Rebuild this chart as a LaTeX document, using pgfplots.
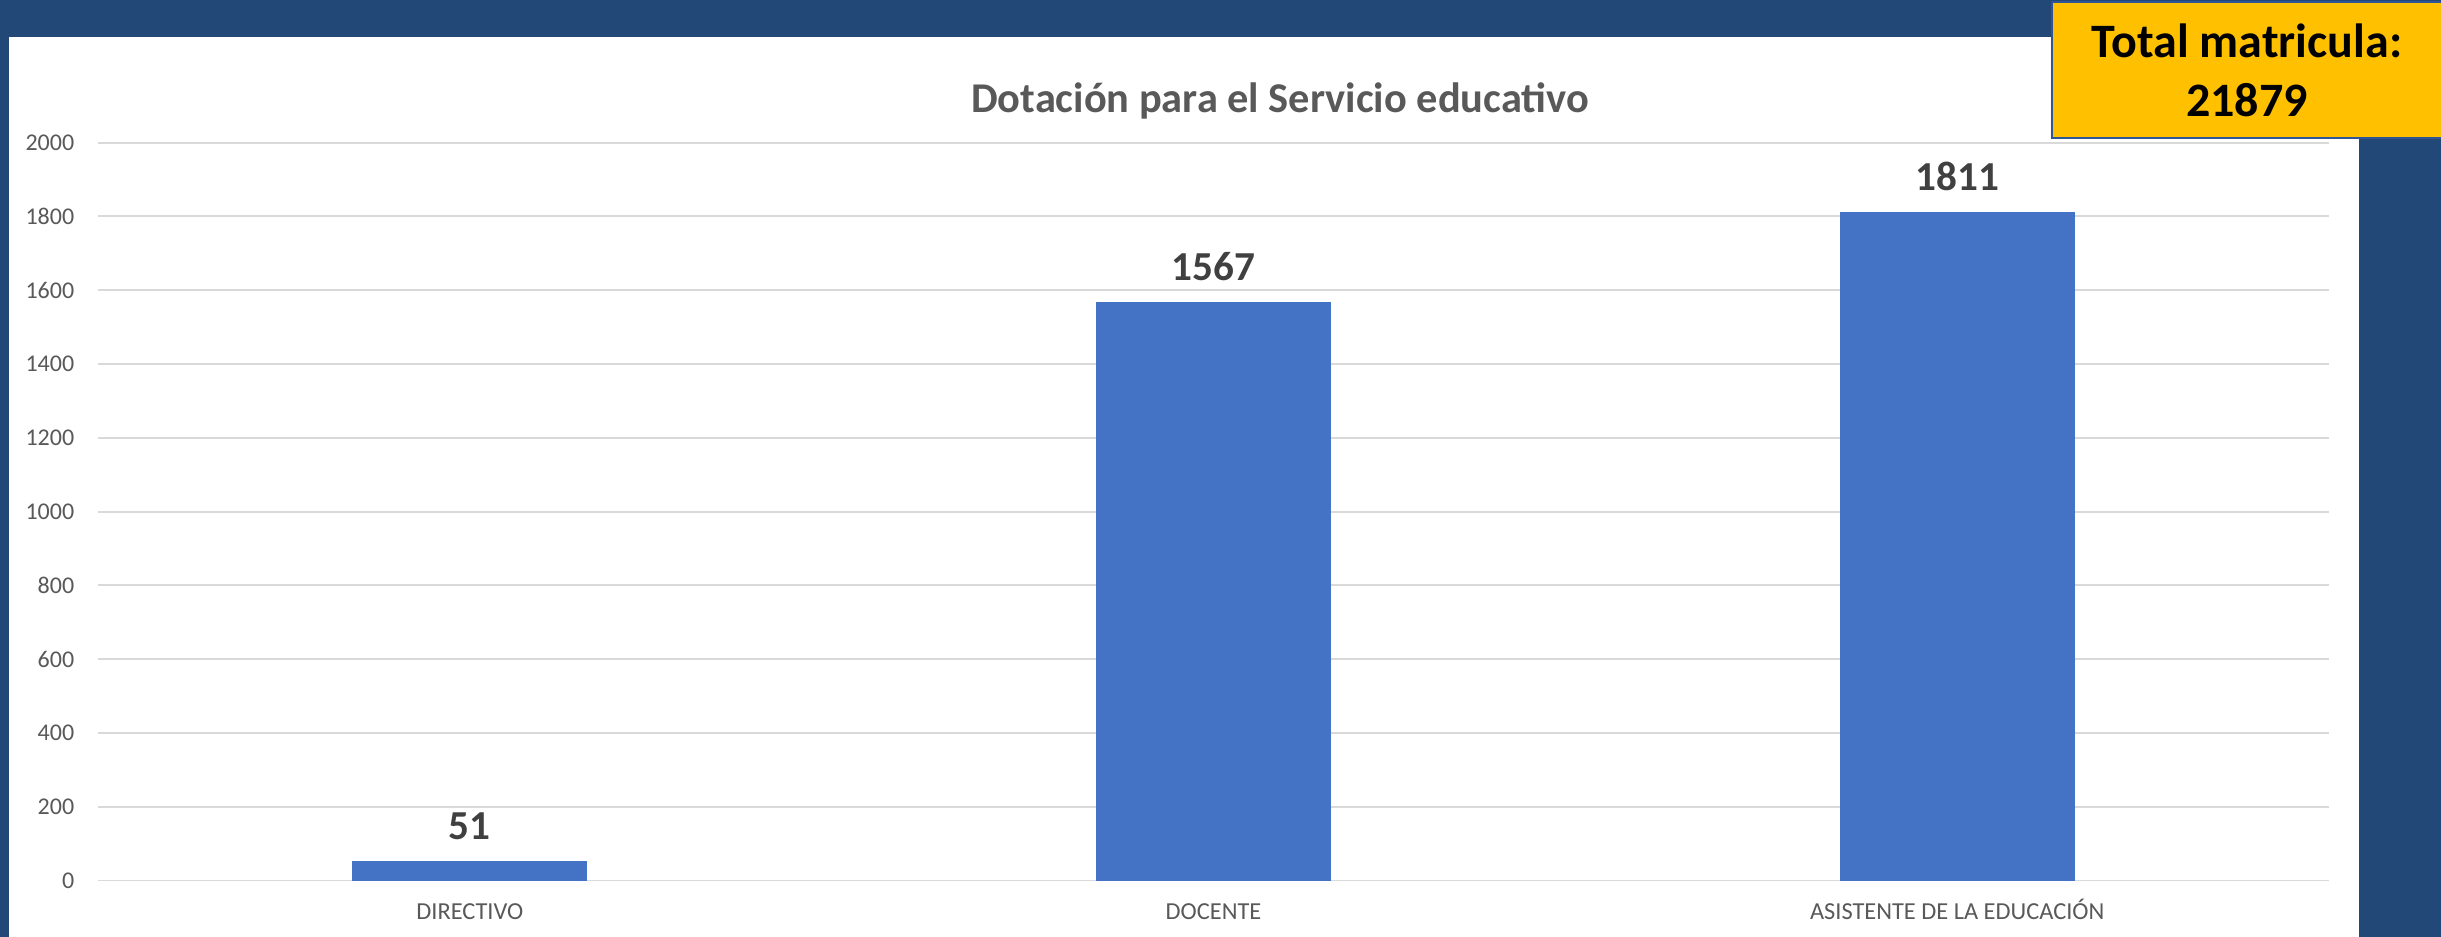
\documentclass[border=0pt]{standalone}
\usepackage{pgfplots}
\pgfplotsset{compat=1.18}
\usepackage{fontspec}
\setmainfont{Carlito}
\definecolor{bgblue}{HTML}{224877}
\definecolor{barblue}{HTML}{4472C4}
\definecolor{gridgray}{HTML}{D9D9D9}
\definecolor{txtgray}{HTML}{595959}
\definecolor{lblgray}{HTML}{404040}
\definecolor{boxyellow}{HTML}{FFC000}
\definecolor{boxborder}{HTML}{2F5597}
\begin{document}
\begin{tikzpicture}
\useasboundingbox (0,0) rectangle (610.25bp,234.25bp);
\fill[bgblue] (0,0) rectangle (610.25bp,234.25bp);
\fill[white] (2.25bp,0) rectangle (589.75bp,225bp);
\begin{axis}[
  at={(24.5bp,14.125bp)}, anchor=south west,
  scale only axis, width=557.75bp, height=184.45bp,
  xmin=-0.5, xmax=2.5, ymin=0, ymax=2000,
  ytick={0,200,...,2000},
  xtick=data,
  xticklabels={DIRECTIVO,DOCENTE,ASISTENTE DE LA EDUCACIÓN},
  axis line style={draw=none},
  major tick style={draw=none},
  ymajorgrids, grid style={gridgray, line width=0.5bp},
  /pgf/number format/assume math mode=true,
  /pgf/number format/1000 sep={},
  yticklabel style={font=\fontsize{6bp}{7bp}\selectfont, text=txtgray, anchor=east, inner sep=0pt, xshift=-5.75bp},
  xticklabel style={font=\fontsize{6.1bp}{7bp}\selectfont, text=txtgray, anchor=north, inner sep=0pt, text height=5bp, text depth=0pt, yshift=-0.3bp},
  ybar, bar width=58.5bp,
  nodes near coords,
  every node near coord/.style={anchor=south, inner sep=0pt, yshift=5.3bp,
     font=\fontsize{10.3bp}{12bp}\selectfont\bfseries, text=lblgray},
]
\addplot[fill=barblue, draw=barblue, line width=0.3bp] coordinates {(0,51) (1,1567) (2,1811)};
\end{axis}
\node[anchor=base, text=txtgray, font=\fontsize{10.6bp}{12bp}\selectfont\bfseries] at (320bp,206bp) {Dotación para el Servicio educativo};
\filldraw[fill=boxyellow, draw=boxborder, line width=0.7bp] (513bp,199.75bp) rectangle (611bp,233.75bp);
\node[anchor=base, font=\fontsize{12bp}{14bp}\selectfont\bfseries] at (561.75bp,219.75bp) {Total matricula:};
\node[anchor=base, font=\fontsize{12bp}{14bp}\selectfont\bfseries] at (561.75bp,205bp) {21879};
\end{tikzpicture}
\end{document}
